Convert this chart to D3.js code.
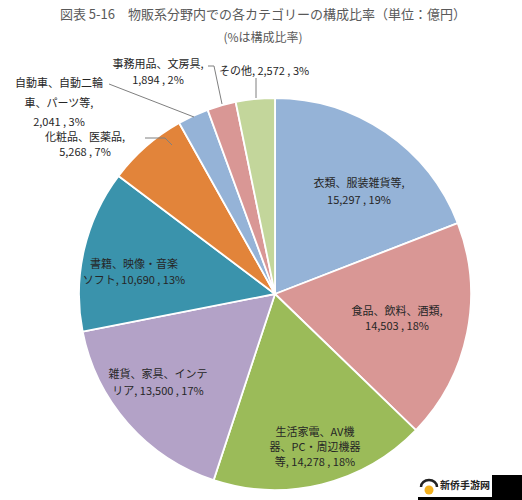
<!DOCTYPE html>
<html><head><meta charset="utf-8">
<script src="https://cdn.jsdelivr.net/npm/d3@7"></script>
<style>
body{margin:0;background:#fff;}
svg{display:block;font-family:"Noto Sans CJK JP","Noto Sans",sans-serif;}
</style></head>
<body>
<script>
// ---- data ----
const categories = ["衣類、服装雑貨等","食品、飲料、酒類","生活家電、AV機器、PC・周辺機器等","雑貨、家具、インテリア","書籍、映像・音楽ソフト","化粧品、医薬品","自動車、自動二輪車、パーツ等","事務用品、文房具","その他"];
const values = [15297,14503,14278,13500,10690,5268,2041,1894,2572];
const percents = ["19%","18%","18%","17%","13%","7%","3%","2%","3%"];
const labelLines = [
  ["衣類、服装雑貨等,","15,297 , 19%"],
  ["食品、飲料、酒類,","14,503 , 18%"],
  ["生活家電、AV機","器、PC・周辺機器","等, 14,278 , 18%"],
  ["雑貨、家具、インテ","リア, 13,500 , 17%"],
  ["書籍、映像・音楽","ソフト, 10,690 , 13%"],
  ["化粧品、医薬品,","5,268 , 7%"],
  ["自動車、自動二輪","車、パーツ等,","2,041 , 3%"],
  ["事務用品、文房具,","1,894 , 2%"],
  ["その他, 2,572 , 3%"]
];
const colors = ["#95B3D7","#D99795","#9BBB59","#B3A2C7","#3A93AC","#E2843A","#95B3D7","#D99795","#C3D69B"];
const title1 = "図表 5-16　物販系分野内での各カテゴリーの構成比率（単位：億円）";
const title2 = "(%は構成比率)";

// ---- layout (label anchors relative to pie centre, line heights) ----
const labelAnchor = [[84,-118],[122,10],[40,131],[-117,73],[-141,-37],[-190,-164],[-216,-218],[-117,-237],[-11,-230]];
const labelLH = [17,15,15,17,16,15,19.5,16,16];
const leaders = [null,null,null,null,null,
  [[-130,-156],[-110,-156],[-103,-149]],
  [[-166,-210],[-81,-177]],
  [[-67,-228],[-61,-228],[-53,-190]],
  [[-19,-216],[-19,-196]]];

const W=522,H=500,cx=275,cy=294,R=196;
const svg=d3.select("body").append("svg").attr("width",W).attr("height",H);

svg.append("text").attr("x",263).attr("y",19).attr("text-anchor","middle")
  .attr("font-size",13).attr("fill","#595959").text(title1);
svg.append("text").attr("x",263).attr("y",42).attr("text-anchor","middle")
  .attr("font-size",12).attr("fill","#595959").text(title2);

const pie=d3.pie().sort(null).value(d=>d)(values);
const arc=d3.arc().innerRadius(0).outerRadius(R);
const g=svg.append("g").attr("transform",`translate(${cx},${cy})`);
g.selectAll("path").data(pie).join("path")
  .attr("d",arc).attr("fill",(d,i)=>colors[i])
  .attr("stroke","#fff").attr("stroke-width",1.8).attr("stroke-linejoin","round");

// leader lines
leaders.forEach(l=>{ if(!l) return;
  g.append("path").attr("d",d3.line()(l)).attr("fill","none").attr("stroke","#7f7f7f").attr("stroke-width",1);
});

// labels
labelLines.forEach((lines,i)=>{
  const [ax,ay]=labelAnchor[i];
  const t=g.append("text").attr("text-anchor","middle").attr("font-size",11).attr("fill","#262626");
  lines.forEach((s,j)=>t.append("tspan").attr("x",ax).attr("y",ay+j*labelLH[i]+11).text(s));
});

// watermark
const wm=svg.append("g");
wm.append("rect").attr("x",418).attr("y",475).attr("width",104).attr("height",25).attr("fill","#000");
wm.append("rect").attr("x",418).attr("y",475).attr("width",74).attr("height",22).attr("fill","#fff");
wm.append("path").attr("d","M421,487 A8,7 0 0 1 437,487").attr("fill","none").attr("stroke","#222").attr("stroke-width",2.5);
wm.append("circle").attr("cx",429).attr("cy",490).attr("r",4.5).attr("fill","#F2B01E");
wm.append("text").attr("x",440).attr("y",489).attr("font-size",10).attr("font-weight","bold")
  .attr("font-family","Noto Sans CJK SC").attr("fill","#222").text("新侨手游网");
</script>
</body></html>
